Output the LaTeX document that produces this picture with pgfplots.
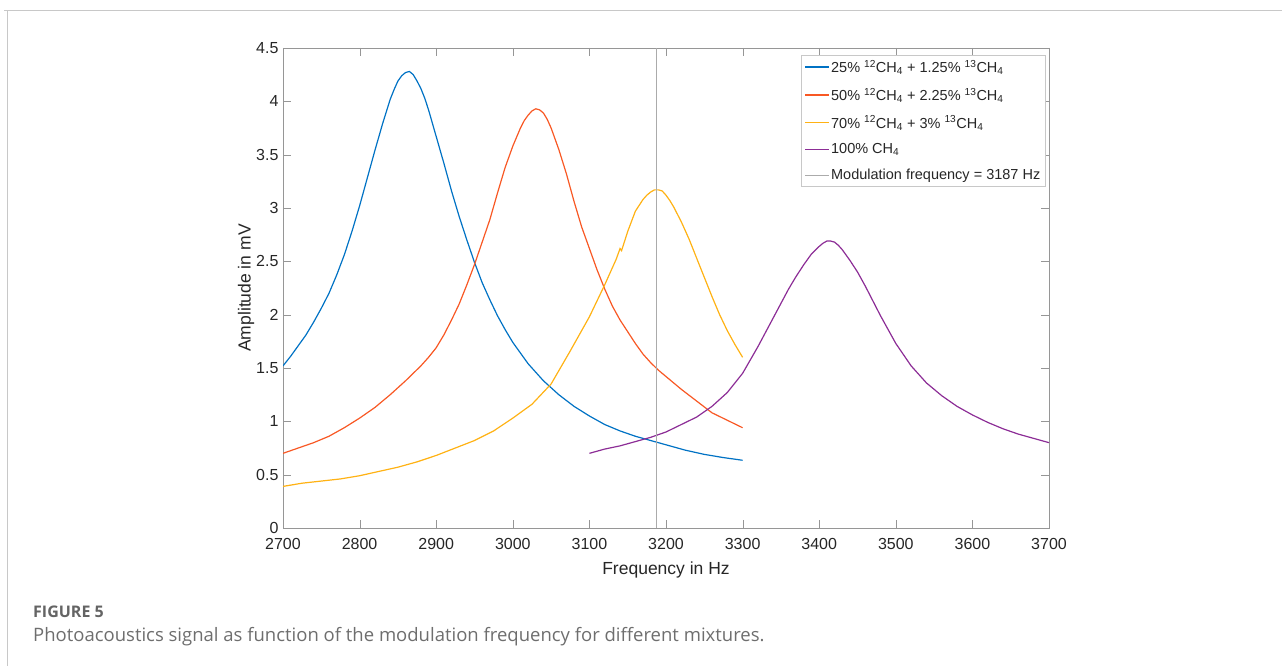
\documentclass[border=0pt]{standalone}
\usepackage{pgfplots}
\pgfplotsset{compat=1.18}
\usepackage{fontspec}
\setmainfont{Liberation Sans}
\newfontfamily\capfont{Open Sans}
\definecolor{c1}{RGB}{0,114,196}
\definecolor{c2}{RGB}{248,88,36}
\definecolor{c3}{RGB}{255,178,20}
\definecolor{c4}{RGB}{140,45,150}
\definecolor{frame}{RGB}{200,200,200}
\definecolor{axcol}{RGB}{150,150,150}
\definecolor{txt}{RGB}{38,38,38}
\begin{document}
\begin{tikzpicture}
\useasboundingbox (0pt,0pt) rectangle (1282pt,666pt);
\draw[frame, line width=1pt] (4pt,655pt) -- (1282pt,655pt);
\draw[frame, line width=1pt] (7pt,655pt) -- (7pt,0pt);
\node[anchor=base west, inner sep=0pt, text={rgb,255:red,100;green,100;blue,100}] at (33pt,48pt) {\capfont\fontsize{16}{20}\selectfont\bfseries FIGURE 5};
\node[anchor=base west, inner sep=0pt, text={rgb,255:red,110;green,110;blue,110}] at (33pt,24pt) {\capfont\fontsize{18.5}{22}\selectfont Photoacoustics signal as function of the modulation frequency for different mixtures.};
\begin{axis}[
  at={(283pt,138pt)}, anchor=south west,
  scale only axis, width=766pt, height=480pt,
  xmin=2700, xmax=3700, ymin=0, ymax=4.5,
  xtick={2700,2800,...,3700},
  ytick={0,0.5,...,4.5},
  /pgf/number format/assume math mode=true,
  /pgf/number format/set thousands separator={},
  tick label style={font=\fontsize{16}{18}\selectfont, text=txt},
  yticklabel style={/pgf/number format/fixed, xshift=-1pt},
  xticklabel style={yshift=-7pt},
  axis line style={axcol},
  major tick style={axcol},
  major tick length=8pt,
  tick align=inside,
  xlabel={Frequency in Hz},
  ylabel={Amplitude in mV},
  label style={font=\fontsize{17.5}{20}\selectfont, text=txt},
  xlabel style={yshift=-5pt},
  ylabel style={yshift=-5pt},
  legend style={at={(rel axis cs:1,1)}, anchor=north east, xshift=-4pt, yshift=-7pt,
    draw=frame, font=\fontsize{14.5}{17}\selectfont, text=txt, row sep=14pt,
    inner xsep=3pt, inner ysep=5pt, nodes={inner xsep=1.5pt, inner ysep=0pt}},
  legend cell align=left,
  legend image code/.code={\draw[#1] (0pt,0pt) -- (24pt,0pt);},
  every axis plot/.append style={line width=1.2pt},
]
\addplot[c1] coordinates {
(2700,1.52) (2710,1.61) (2720,1.71) (2730,1.81) (2740,1.93) (2750,2.06) (2760,2.20) (2770,2.37) (2780,2.56) (2790,2.78) (2800,3.02) (2810,3.28) (2820,3.54) (2830,3.79) (2840,4.02) (2845,4.11) (2850,4.19) (2855,4.24) (2860,4.27) (2865,4.28) (2870,4.25) (2875,4.19) (2880,4.12) (2885,4.03) (2890,3.92) (2900,3.67) (2910,3.42) (2920,3.16) (2930,2.92) (2940,2.70) (2950,2.49) (2960,2.30) (2970,2.14) (2980,1.99) (2990,1.86) (3000,1.74) (3020,1.54) (3040,1.38) (3060,1.25) (3080,1.14) (3100,1.05) (3120,0.97) (3140,0.91) (3160,0.86) (3180,0.82) (3200,0.78) (3225,0.73) (3250,0.69) (3275,0.66) (3300,0.635)
};
\addlegendentry{25\% \textsuperscript{12}CH\textsubscript{4} + 1.25\% \textsuperscript{13}CH\textsubscript{4}}
\addplot[c2] coordinates {
(2700,0.70) (2720,0.75) (2740,0.80) (2760,0.86) (2780,0.94) (2800,1.03) (2820,1.13) (2840,1.25) (2860,1.38) (2870,1.45) (2880,1.52) (2890,1.60) (2900,1.69) (2910,1.81) (2920,1.95) (2930,2.10) (2940,2.28) (2950,2.47) (2960,2.68) (2970,2.89) (2980,3.14) (2990,3.38) (3000,3.58) (3010,3.75) (3015,3.82) (3020,3.87) (3025,3.91) (3030,3.93) (3035,3.92) (3040,3.89) (3045,3.83) (3050,3.75) (3060,3.55) (3070,3.32) (3080,3.06) (3090,2.82) (3100,2.62) (3110,2.42) (3120,2.24) (3130,2.08) (3140,1.95) (3150,1.84) (3160,1.73) (3170,1.63) (3180,1.55) (3190,1.48) (3200,1.42) (3220,1.30) (3240,1.19) (3260,1.08) (3280,1.01) (3300,0.94)
};
\addlegendentry{50\% \textsuperscript{12}CH\textsubscript{4} + 2.25\% \textsuperscript{13}CH\textsubscript{4}}
\addplot[c3] coordinates {
(2700,0.39) (2725,0.42) (2750,0.44) (2775,0.46) (2800,0.49) (2825,0.53) (2850,0.57) (2875,0.62) (2900,0.68) (2925,0.75) (2950,0.82) (2975,0.91) (3000,1.03) (3025,1.16) (3050,1.35) (3075,1.66) (3100,1.98) (3120,2.28) (3135,2.52) (3140,2.62) (3142,2.60) (3150,2.78) (3160,2.97) (3170,3.08) (3175,3.12) (3180,3.15) (3185,3.17) (3190,3.17) (3195,3.16) (3200,3.12) (3205,3.07) (3210,3.01) (3220,2.87) (3230,2.71) (3240,2.53) (3250,2.35) (3260,2.17) (3270,2.00) (3280,1.85) (3290,1.72) (3300,1.60)
};
\addlegendentry{70\% \textsuperscript{12}CH\textsubscript{4} + 3\% \textsuperscript{13}CH\textsubscript{4}}
\addplot[c4] coordinates {
(3100,0.70) (3120,0.74) (3140,0.77) (3160,0.81) (3180,0.85) (3200,0.90) (3220,0.97) (3240,1.04) (3260,1.14) (3280,1.27) (3300,1.45) (3320,1.70) (3340,1.97) (3360,2.24) (3370,2.36) (3380,2.47) (3390,2.57) (3400,2.64) (3405,2.67) (3410,2.69) (3415,2.69) (3420,2.68) (3425,2.65) (3430,2.61) (3440,2.51) (3450,2.40) (3460,2.27) (3480,1.99) (3500,1.73) (3520,1.52) (3540,1.36) (3560,1.24) (3580,1.14) (3600,1.06) (3620,0.99) (3640,0.93) (3660,0.88) (3680,0.84) (3700,0.80)
};
\addlegendentry{100\% CH\textsubscript{4}}
\addplot[axcol!80, line width=1pt] coordinates {(3187,0) (3187,4.5)};
\addlegendentry{Modulation frequency = 3187 Hz}
\end{axis}
\end{tikzpicture}
\end{document}
